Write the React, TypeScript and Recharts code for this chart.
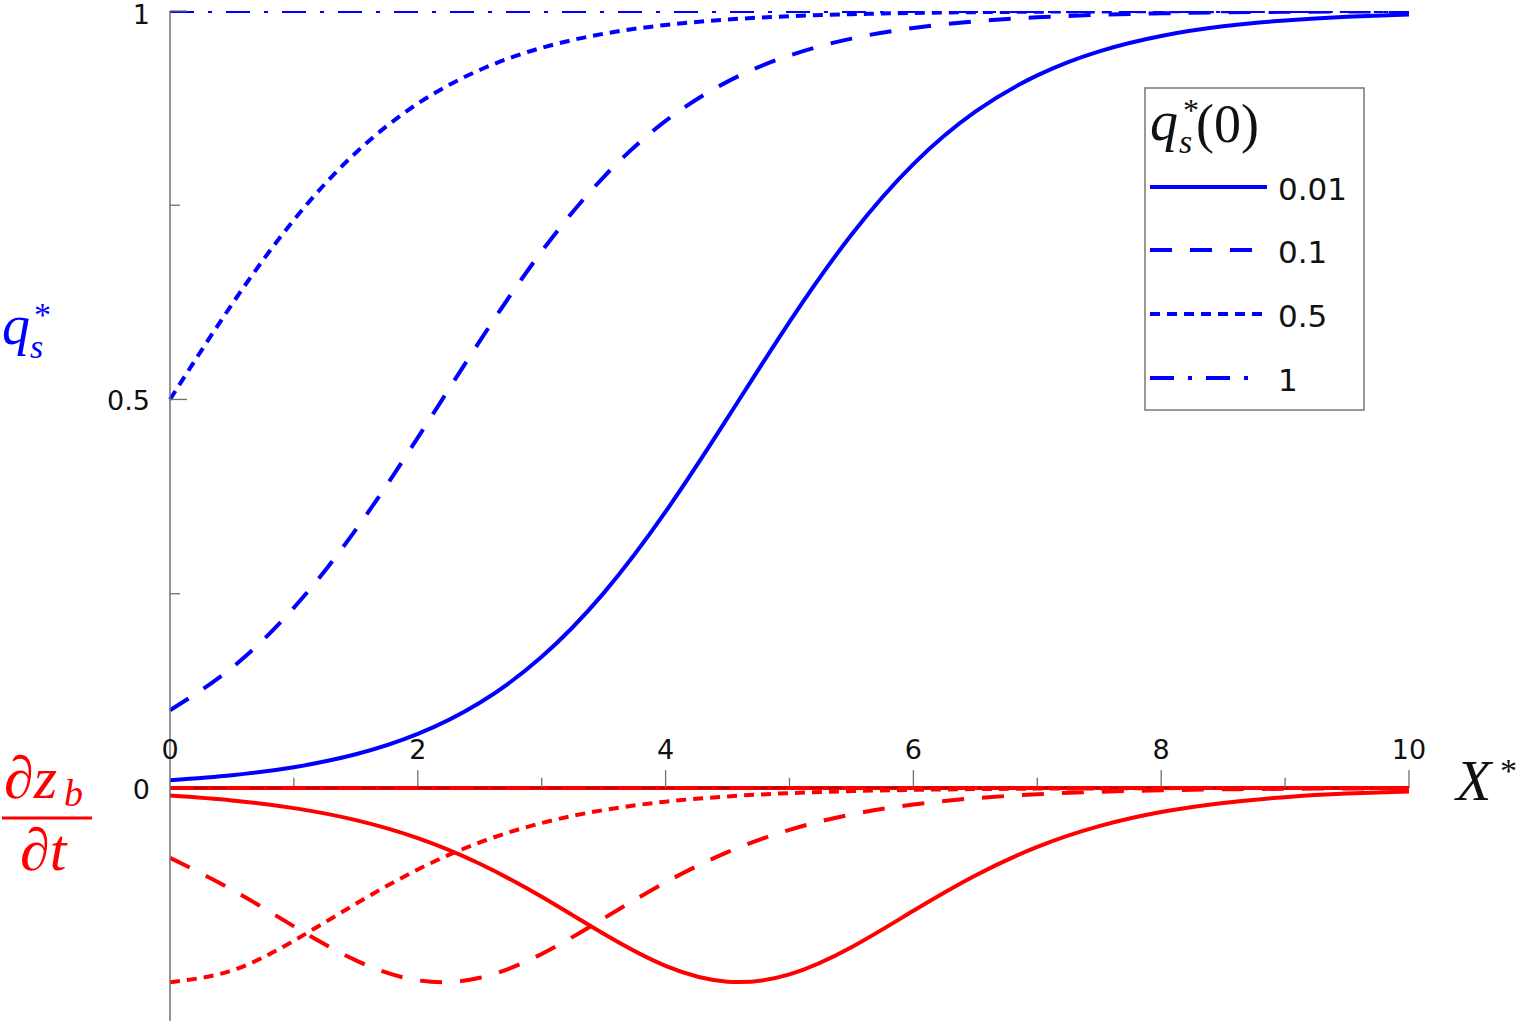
import { LineChart, Line, XAxis, YAxis, ReferenceLine, ReferenceDot } from 'recharts'

// X* positions (step 0.5)
const xValues = [0, 0.5, 1, 1.5, 2, 2.5, 3, 3.5, 4, 4.5, 5, 5.5, 6, 6.5, 7, 7.5, 8, 8.5, 9, 9.5, 10]

// q_s* for q_s*(0) = 0.01, 0.1, 0.5, 1
const qs001 = [0.01, 0.0164, 0.0267, 0.0433, 0.0695, 0.1096, 0.1687, 0.2507, 0.3555, 0.4762, 0.5999, 0.712, 0.803, 0.8704, 0.9172, 0.9481, 0.9679, 0.9803, 0.9879, 0.9926, 0.9955]
const qs01 = [0.1, 0.1548, 0.232, 0.3324, 0.4508, 0.5751, 0.6906, 0.7863, 0.8585, 0.9091, 0.9428, 0.9645, 0.9782, 0.9867, 0.9919, 0.9951, 0.997, 0.9982, 0.9989, 0.9993, 0.9996]
const qs05 = [0.5, 0.6225, 0.7311, 0.8176, 0.8808, 0.9241, 0.9526, 0.9707, 0.982, 0.989, 0.9933, 0.9959, 0.9975, 0.9985, 0.9991, 0.9995, 0.9997, 0.9998, 0.9999, 0.9999, 1]
const qs1 = [1, 1, 1, 1, 1, 1, 1, 1, 1, 1, 1, 1, 1, 1, 1, 1, 1, 1, 1, 1, 1]

// dz_b/dt for the same initial values
const dz001 = [-0.0099, -0.0161, -0.026, -0.0414, -0.0646, -0.0976, -0.1402, -0.1878, -0.2291, -0.2494, -0.24, -0.2051, -0.1582, -0.1128, -0.0759, -0.0492, -0.0311, -0.0194, -0.0119, -0.0073, -0.0045]
const dz01 = [-0.09, -0.1309, -0.1782, -0.2219, -0.2476, -0.2444, -0.2137, -0.168, -0.1215, -0.0826, -0.0539, -0.0342, -0.0213, -0.0132, -0.0081, -0.0049, -0.003, -0.0018, -0.0011, -0.0007, -0.0004]
const dz05 = [-0.25, -0.235, -0.1966, -0.1492, -0.105, -0.0701, -0.0452, -0.0285, -0.0177, -0.0109, -0.0067, -0.0041, -0.0025, -0.0015, -0.0009, -0.0006, -0.0003, -0.0002, -0.0001, -0.0001, 0]
const dz1 = [0, 0, 0, 0, 0, 0, 0, 0, 0, 0, 0, 0, 0, 0, 0, 0, 0, 0, 0, 0, 0]

const legendLabels = ['0.01', '0.1', '0.5', '1']
const yTicks = [0, 0.25, 0.5, 0.75, 1]
const yTickLabels: Record<string, string> = { '0': '0', '0.5': '0.5', '1': '1' }
const xMajorTicks = [2, 4, 6, 8, 10]
const xMinorTicks = [1, 3, 5, 7, 9]
const xTickLabels = [0, 2, 4, 6, 8, 10]

const BLUE = '#0000ff'
const RED = '#ff0000'
const AXIS = '#707070'
const DASHES = ['', '22 18', '10 7', '24 14 4 14']
const TICK_FONT = '"DejaVu Sans", sans-serif'
const MATH_FONT = '"Liberation Serif", serif'

const data = xValues.map((x, i) => ({
  x,
  qs001: qs001[i],
  qs01: qs01[i],
  qs05: qs05[i],
  qs1: qs1[i],
  dz001: dz001[i],
  dz01: dz01[i],
  dz05: dz05[i],
  dz1: dz1[i]
}))

const blueKeys = ['qs001', 'qs01', 'qs05', 'qs1']
const redKeys = ['dz001', 'dz01', 'dz05', 'dz1']

function YTick(props: any) {
  const { x, y, payload } = props
  const label = yTickLabels[String(payload.value)]
  const len = label ? 17 : 10
  // keep the top label inside the picture
  const ty = payload.value === 1 ? y + 3 : y + 1
  return (
    <g>
      {payload.value !== 0 && (
        <line x1={x} x2={x + len} y1={y} y2={y} stroke={AXIS} strokeWidth={1.3} />
      )}
      {label && (
        <text x={x - 20} y={ty} dy="0.36em" textAnchor="end" fontSize={27} fontFamily={TICK_FONT} fill="#111">
          {label}
        </text>
      )}
    </g>
  )
}

function Overlay() {
  const rows = [187, 250, 314, 378]
  const ends = [1267, 1267, 1267, 1256]
  return (
    <svg
      width={1528}
      height={1024}
      style={{ position: 'absolute', left: 0, top: 0, pointerEvents: 'none' }}
    >
      {/* y label: q_s* */}
      <g fill={BLUE} fontFamily={MATH_FONT} fontStyle="italic">
        <text x={2} y={344} fontSize={56}>q</text>
        <text x={34} y={326} fontSize={34} fontStyle="normal">*</text>
        <text x={30} y={358} fontSize={34}>s</text>
      </g>
      {/* y label: dz_b/dt */}
      <g fill={RED} fontFamily={MATH_FONT} fontStyle="italic">
        <text x={4} y={798} fontSize={60}>∂z</text>
        <text x={64} y={806} fontSize={38}>b</text>
        <line x1={2} x2={92} y1={818} y2={818} stroke={RED} strokeWidth={3} />
        <text x={20} y={870} fontSize={60}>∂t</text>
      </g>
      {/* x label: X* */}
      <g fill="#111" fontFamily={MATH_FONT} fontStyle="italic">
        <text x={1456} y={800} fontSize={58}>X</text>
        <text x={1500} y={782} fontSize={34} fontStyle="normal">*</text>
      </g>
      {/* legend */}
      <rect x={1145} y={88} width={219} height={322} fill="#fff" stroke="#777" strokeWidth={1.5} />
      <g fill="#111" fontFamily={MATH_FONT} fontStyle="italic">
        <text x={1150} y={140} fontSize={56}>q</text>
        <text x={1183} y={121} fontSize={32} fontStyle="normal">*</text>
        <text x={1179} y={153} fontSize={34}>s</text>
        <text x={1196} y={142} fontSize={54} fontStyle="normal">(0)</text>
      </g>
      {legendLabels.map((lab, i) => (
        <g key={lab}>
          <line
            x1={1150}
            x2={ends[i]}
            y1={rows[i]}
            y2={rows[i]}
            stroke={BLUE}
            strokeWidth={4}
            strokeDasharray={DASHES[i] || undefined}
          />
          <text x={1278} y={rows[i] + 2} dy="0.36em" fontSize={31} fontFamily={TICK_FONT} fill="#111">
            {lab}
          </text>
        </g>
      ))}
    </svg>
  )
}

export default function App() {
  return (
    <div style={{ position: 'absolute', left: 0, top: 0, width: 1528, height: 1024, background: '#fff' }}>
      <LineChart
        width={1528}
        height={1024}
        data={data}
        margin={{ top: 11, right: 119, bottom: 3, left: 110 }}
      >
        <XAxis dataKey="x" type="number" domain={[0, 10]} hide />
        <YAxis
          type="number"
          domain={[-0.3, 1]}
          ticks={yTicks}
          interval={0}
          width={60}
          axisLine={{ stroke: AXIS, strokeWidth: 1.5 }}
          tickLine={false}
          tickSize={0}
          tickMargin={0}
          tick={YTick}
          allowDataOverflow
        />
        <ReferenceLine y={0} stroke={RED} strokeWidth={4} />
        <ReferenceLine y={0} stroke="#8a0000" strokeWidth={1.3} />
        {xMajorTicks.map((t) => (
          <ReferenceLine
            key={'M' + t}
            segment={[{ x: t, y: 0 }, { x: t, y: 0.023 }]}
            stroke={AXIS}
            strokeWidth={1.3}
          />
        ))}
        {xMinorTicks.map((t) => (
          <ReferenceLine
            key={'m' + t}
            segment={[{ x: t, y: 0 }, { x: t, y: 0.013 }]}
            stroke={AXIS}
            strokeWidth={1.3}
          />
        ))}
        {xTickLabels.map((t) => (
          <ReferenceDot
            key={'l' + t}
            x={t}
            y={0}
            r={0}
            fill="none"
            stroke="none"
            ifOverflow="visible"
            label={{ value: String(t), position: 'top', offset: 29, fill: '#111', fontSize: 27, fontFamily: TICK_FONT }}
          />
        ))}
        {redKeys.map((k, i) => (
          <Line
            key={k}
            dataKey={k}
            type="natural"
            stroke={RED}
            strokeWidth={4}
            strokeDasharray={DASHES[i] || undefined}
            dot={false}
            activeDot={false}
            isAnimationActive={false}
          />
        ))}
        {blueKeys.map((k, i) => (
          <Line
            key={k}
            dataKey={k}
            type="natural"
            stroke={BLUE}
            strokeWidth={4}
            strokeDasharray={DASHES[i] || undefined}
            dot={false}
            activeDot={false}
            isAnimationActive={false}
          />
        ))}
      </LineChart>
      <Overlay />
    </div>
  )
}
